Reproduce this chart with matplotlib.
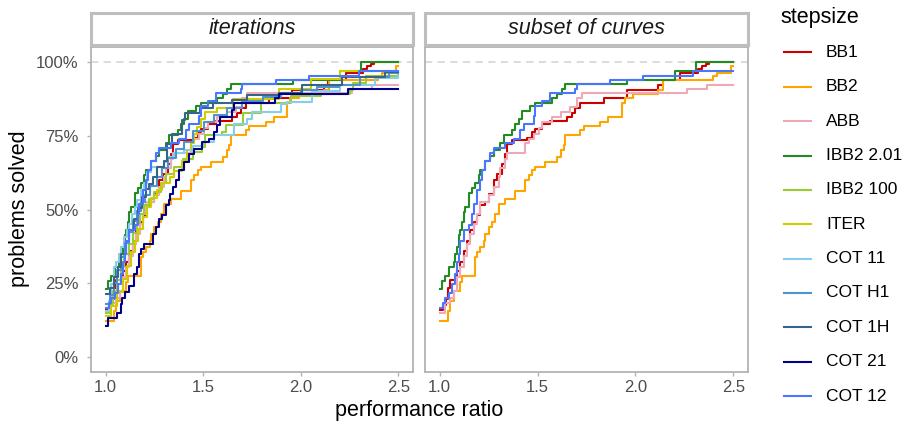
import matplotlib
matplotlib.use("Agg")
import matplotlib.pyplot as plt
from matplotlib.lines import Line2D

plt.rcParams['font.family'] = ['Liberation Sans', 'DejaVu Sans']

# ---------------- data (performance ratio, % problems solved) ----------------
series_names = ["BB1", "BB2", "ABB", "IBB2 2.01", "IBB2 100", "ITER",
                "COT 11", "COT H1", "COT 1H", "COT 21", "COT 12"]
series_colors = ["#CD0000", "#FFA500", "#EEA9B8", "#228B22", "#9ACD32", "#CDCD00",
                 "#87CEEB", "#4F94CD", "#36648B", "#00008B", "#4876FF"]
subset_names = ["BB1", "BB2", "ABB", "IBB2 2.01", "COT 12"]
panel_titles = ["iterations", "subset of curves"]

bb1_x = [1.0, 1.015, 1.031, 1.043, 1.055, 1.089, 1.106, 1.122, 1.140, 1.157, 1.175, 1.191, 1.208, 1.233,
         1.250, 1.276, 1.293, 1.318, 1.335, 1.344, 1.369, 1.446, 1.471, 1.488, 1.522, 1.565, 1.650, 1.675,
         1.692, 1.718, 1.837, 1.956, 2.117, 2.140, 2.230, 2.320, 2.340, 2.360, 2.375, 2.5]
bb1_y = [16.0, 17.6, 19.6, 23.6, 26.1, 29.3, 32.1, 36.1, 39.5, 42.9, 45.7, 48.0, 51.4, 52.5,
         55.3, 59.9, 62.1, 65.5, 68.9, 72.3, 73.5, 74.1, 76.3, 77.4, 79.1, 79.9, 81.4, 82.5,
         84.2, 86.0, 87.6, 90.5, 92.2, 93.9, 96.1, 97.5, 98.4, 99.3, 100.0, 100.0]

bb2_x = [1.0, 1.043, 1.055, 1.072, 1.106, 1.114, 1.182, 1.191, 1.208, 1.225, 1.233, 1.250, 1.267, 1.284,
         1.301, 1.335, 1.386, 1.437, 1.454, 1.471, 1.488, 1.539, 1.599, 1.620, 1.633, 1.641, 1.718, 1.735,
         1.820, 1.862, 1.930, 1.947, 1.990, 2.117, 2.143, 2.398, 2.415, 2.490, 2.5]
bb2_y = [12.2, 15.6, 19.0, 22.4, 25.3, 27.6, 33.8, 35.5, 37.2, 39.5, 41.7, 44.0, 45.7, 48.5,
         51.9, 53.6, 56.2, 59.9, 61.6, 63.3, 64.4, 66.1, 67.8, 70.1, 71.8, 75.2, 76.9, 78.3,
         79.7, 81.4, 86.0, 87.6, 89.0, 90.5, 93.9, 95.3, 96.1, 98.4, 98.4]

abb_x = [1.0, 1.029, 1.055, 1.072, 1.089, 1.106, 1.122, 1.140, 1.157, 1.175, 1.191, 1.208, 1.250, 1.276,
         1.301, 1.310, 1.335, 1.344, 1.437, 1.454, 1.480, 1.505, 1.522, 1.573, 1.620, 1.667, 1.701, 1.726,
         2.262, 2.364, 2.5]
abb_y = [15.1, 18.5, 20.2, 22.4, 27.0, 30.4, 34.4, 38.3, 41.7, 45.1, 48.5, 52.4, 55.0, 57.6,
         61.0, 64.0, 67.0, 69.1, 72.5, 74.0, 75.5, 77.5, 79.7, 81.4, 83.0, 84.8, 87.6, 89.3,
         90.8, 92.2, 92.2]

ibb2a_x = [1.0, 1.012, 1.029, 1.046, 1.071, 1.080, 1.088, 1.097, 1.105, 1.114, 1.122, 1.131, 1.148, 1.165,
           1.182, 1.199, 1.207, 1.233, 1.259, 1.276, 1.310, 1.327, 1.369, 1.386, 1.403, 1.420, 1.463, 1.488,
           1.573, 1.599, 1.624, 1.641, 1.958, 2.200, 2.310, 2.5]
ibb2a_y = [23.1, 25.9, 27.6, 30.5, 32.2, 35.0, 37.3, 41.3, 43.0, 45.8, 49.2, 50.9, 55.5, 57.2,
           59.0, 61.7, 63.4, 66.3, 68.0, 70.2, 72.5, 75.3, 77.0, 78.8, 80.5, 83.3, 85.0, 86.1,
           87.8, 89.0, 90.7, 92.4, 93.9, 97.0, 100.0, 100.0]

ibb2b_x = [1.0, 1.018, 1.037, 1.058, 1.077, 1.096, 1.118, 1.139, 1.161, 1.178, 1.197, 1.222, 1.248, 1.283,
           1.309, 1.352, 1.398, 1.447, 1.492, 1.508, 1.598, 1.617, 1.703, 1.795, 1.948, 2.104, 2.252, 2.268,
           2.334, 2.5]
ibb2b_y = [15.0, 18.0, 22.4, 26.0, 30.4, 34.9, 38.3, 42.0, 45.8, 48.5, 51.4, 53.6, 56.0, 59.0,
           62.0, 64.5, 67.0, 69.5, 71.2, 75.2, 76.3, 78.6, 82.5, 86.0, 88.3, 89.0, 90.5, 92.7,
           95.3, 95.3]

iter_x = [1.0, 1.027, 1.058, 1.088, 1.108, 1.129, 1.151, 1.168, 1.192, 1.213, 1.232, 1.262, 1.288, 1.331,
          1.352, 1.389, 1.418, 1.437, 1.452, 1.468, 1.489, 1.508, 1.571, 1.652, 1.886, 2.052, 2.203, 2.5]
iter_y = [14.0, 17.5, 22.0, 26.5, 31.0, 35.5, 39.5, 43.5, 47.5, 51.0, 54.0, 56.5, 59.0, 61.0,
          63.0, 66.5, 70.0, 72.5, 75.5, 78.0, 80.5, 83.0, 84.2, 87.5, 90.7, 94.3, 96.9, 96.9]

cot11_x = [1.0, 1.015, 1.030, 1.042, 1.055, 1.068, 1.080, 1.094, 1.110, 1.119, 1.136, 1.150, 1.162, 1.179,
           1.195, 1.213, 1.230, 1.300, 1.320, 1.350, 1.400, 1.450, 1.500, 1.554, 1.656, 1.724, 1.750, 1.900,
           1.929, 2.060, 2.200, 2.380, 2.5]
cot11_y = [15.5, 19.0, 24.8, 30.4, 32.2, 34.9, 37.3, 40.6, 43.0, 45.1, 48.5, 50.9, 53.1, 56.5,
           59.0, 62.7, 64.4, 66.1, 67.8, 69.0, 70.2, 71.5, 73.0, 75.3, 78.8, 80.8, 83.0, 85.6,
           86.5, 90.0, 92.2, 94.6, 96.2]

coth1_x = [1.0, 1.021, 1.043, 1.059, 1.081, 1.097, 1.122, 1.138, 1.163, 1.181, 1.202, 1.228, 1.262, 1.287,
           1.322, 1.361, 1.402, 1.448, 1.503, 1.557, 1.622, 1.698, 1.804, 1.897, 2.003, 2.081, 2.196, 2.302,
           2.451, 2.5]
coth1_y = [18.0, 21.0, 25.0, 29.5, 34.0, 38.5, 42.5, 46.0, 49.5, 52.5, 55.0, 58.0, 61.0, 64.0,
           67.5, 70.5, 73.0, 76.5, 79.5, 82.0, 84.2, 86.7, 88.0, 89.5, 90.5, 91.5, 92.2, 94.9,
           96.2, 96.2]

cot1h_x = [1.0, 1.020, 1.041, 1.062, 1.079, 1.102, 1.121, 1.145, 1.166, 1.187, 1.205, 1.221, 1.245, 1.264,
           1.298, 1.315, 1.341, 1.392, 1.409, 1.486, 1.552, 1.648, 1.724, 1.890, 2.004, 2.210, 2.430, 2.5]
cot1h_y = [21.5, 23.6, 27.0, 30.5, 35.0, 39.5, 43.0, 46.8, 50.5, 54.2, 57.0, 58.7, 61.0, 64.4,
           66.5, 72.3, 75.5, 80.3, 82.5, 84.2, 85.9, 87.1, 88.8, 89.3, 92.2, 94.9, 96.6, 96.6]

cot21_x = [1.0, 1.012, 1.060, 1.077, 1.085, 1.100, 1.119, 1.145, 1.162, 1.170, 1.179, 1.196, 1.244, 1.256,
           1.273, 1.290, 1.307, 1.324, 1.332, 1.345, 1.358, 1.375, 1.400, 1.426, 1.451, 1.494, 1.528, 1.554,
           1.571, 1.588, 1.648, 1.656, 1.869, 1.886, 2.244, 2.5]
cot21_y = [10.6, 13.4, 15.1, 17.9, 20.2, 22.0, 24.1, 28.1, 30.4, 34.9, 36.6, 38.3, 41.7, 44.0,
           46.8, 48.0, 51.4, 53.1, 55.3, 57.5, 59.9, 63.3, 66.1, 68.9, 70.6, 72.9, 74.0, 76.3,
           78.6, 81.4, 83.7, 85.9, 87.6, 89.0, 90.7, 90.7]

cot12_x = [1.0, 1.015, 1.029, 1.046, 1.063, 1.080, 1.088, 1.097, 1.105, 1.122, 1.148, 1.165, 1.173, 1.190,
           1.207, 1.216, 1.233, 1.259, 1.276, 1.335, 1.378, 1.412, 1.429, 1.480, 1.488, 1.522, 1.565, 1.692,
           1.701, 1.871, 2.041, 2.296, 2.5]
cot12_y = [16.8, 18.5, 20.2, 21.9, 24.8, 28.2, 32.2, 35.0, 39.5, 43.0, 44.7, 48.6, 52.0, 56.6,
           60.0, 63.4, 66.3, 69.1, 70.8, 72.5, 73.9, 77.0, 78.8, 81.6, 85.0, 86.7, 89.5, 90.7,
           92.4, 93.9, 95.3, 96.9, 96.9]

series_x = [bb1_x, bb2_x, abb_x, ibb2a_x, ibb2b_x, iter_x, cot11_x, coth1_x, cot1h_x, cot21_x, cot12_x]
series_y = [bb1_y, bb2_y, abb_y, ibb2a_y, ibb2b_y, iter_y, cot11_y, coth1_y, cot1h_y, cot21_y, cot12_y]

x_ticks = [1.0, 1.5, 2.0, 2.5]
x_tick_labels = ["1.0", "1.5", "2.0", "2.5"]
y_ticks = [0, 25, 50, 75, 100]
y_tick_labels = ["0%", "25%", "50%", "75%", "100%"]

# ---------------- layout ----------------
W, H = 904, 423
fig = plt.figure(figsize=(W / 100, H / 100), dpi=100)

def fx(px):
    return px / W

def fy(py):
    return 1 - py / H

border_col = "#B3B3B3"
text_col = "#4D4D4D"
panels_px = [(91, 413), (425, 748)]
top_px, bot_px = 47, 372
strip_top, strip_bot = 13, 45

for pi, (x0, x1) in enumerate(panels_px):
    ax = fig.add_axes([fx(x0), fy(bot_px), fx(x1 - x0), (bot_px - top_px) / H])
    ax.set_xlim(0.925, 2.575)
    ax.set_ylim(-5, 105)
    ax.axhline(100, color="#D9D9D9", lw=1.3, ls=(0, (4, 3)), zorder=1)
    for name, col, xs, ys in zip(series_names, series_colors, series_x, series_y):
        if pi == 1 and name not in subset_names:
            continue
        ax.step(xs, ys, where="post", color=col, lw=1.5, zorder=2)
    for s in ax.spines.values():
        s.set_color(border_col)
        s.set_linewidth(1.3)
    ax.set_xticks(x_ticks)
    ax.set_xticklabels(x_tick_labels)
    ax.tick_params(axis="x", direction="out", length=3, width=1, color=border_col,
                   labelcolor=text_col, labelsize=12, pad=3)
    if pi == 0:
        ax.set_yticks(y_ticks)
        ax.set_yticklabels(y_tick_labels)
        ax.tick_params(axis="y", direction="out", length=3, width=1, color=border_col,
                       labelcolor=text_col, labelsize=12, pad=6)
    else:
        ax.set_yticks([])

    # strip
    sax = fig.add_axes([fx(x0), fy(strip_bot), fx(x1 - x0), (strip_bot - strip_top) / H])
    sax.set_xticks([])
    sax.set_yticks([])
    for s in sax.spines.values():
        s.set_color("#BEBEBE")
        s.set_linewidth(2.2)
    sax.text(0.5, 0.5, panel_titles[pi], ha="center", va="center", fontsize=15.5,
             style="italic", color="#1A1A1A", transform=sax.transAxes)

# axis titles
fig.text(fx(419.5), fy(410), "performance ratio", ha="center", va="center", fontsize=15.5, color="black")
fig.text(fx(20), fy(209), "problems solved", ha="center", va="center", rotation=90,
         fontsize=15.5, color="black")

# legend
fig.text(fx(780), fy(18), "stepsize", ha="left", va="center", fontsize=15.5, color="black")
for i, (name, col) in enumerate(zip(series_names, series_colors)):
    yy = 52.5 + i * 34.35
    fig.add_artist(Line2D([fx(784), fx(811)], [fy(yy), fy(yy)], color=col, lw=1.5))
    fig.text(fx(826), fy(yy), name, ha="left", va="center", fontsize=12.5, color="black")

fig.savefig("out.png", dpi=100, facecolor="white")
